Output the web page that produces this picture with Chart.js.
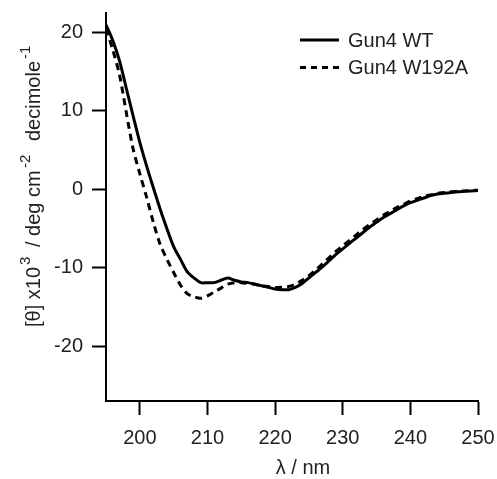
<!DOCTYPE html>
<html>
<head>
<meta charset="utf-8">
<script src="https://cdn.jsdelivr.net/npm/chart.js@4.4.1/dist/chart.umd.min.js"></script>
<style>
  html, body { margin: 0; padding: 0; background: #fff; }
  #wrap { width: 497px; height: 479px; }
</style>
</head>
<body>
<div id="wrap"><canvas id="cd"></canvas></div>
<script>
// wavelength (nm)
const wavelengths = [195, 196, 197, 198, 199, 200, 201, 202, 203, 204, 205, 206, 207, 208, 209,
  210, 211, 212, 213, 214, 215, 216, 217, 218, 219, 220, 221, 222, 223, 224, 225, 226, 227, 228,
  229, 230, 231, 232, 233, 234, 235, 236, 237, 238, 239, 240, 241, 242, 243, 244, 245, 246, 247,
  248, 249, 250];
// mean residue ellipticity x10^3
const wt = [21.0, 19.0, 16.4, 12.9, 9.4, 6.0, 3.0, 0.2, -2.5, -5.0, -7.3, -8.9, -10.5, -11.3, -11.9,
  -11.9, -11.9, -11.6, -11.3, -11.6, -11.8, -11.9, -12.1, -12.3, -12.5, -12.7, -12.8, -12.8, -12.5,
  -12.0, -11.3, -10.6, -9.9, -9.1, -8.3, -7.6, -6.9, -6.2, -5.5, -4.8, -4.2, -3.6, -3.1, -2.6, -2.1,
  -1.7, -1.4, -1.1, -0.8, -0.6, -0.5, -0.4, -0.3, -0.25, -0.2, -0.15];
const w192a = [20.5, 17.8, 14.6, 9.8, 5.2, 2.0, -1.0, -4.2, -7.0, -8.9, -10.6, -12.2, -13.3, -13.7, -13.9,
  -13.6, -13.1, -12.6, -12.1, -11.9, -11.9, -12.0, -12.1, -12.3, -12.4, -12.5, -12.5, -12.4, -12.1,
  -11.6, -11.0, -10.3, -9.5, -8.7, -7.9, -7.2, -6.5, -5.8, -5.1, -4.5, -3.9, -3.3, -2.8, -2.3, -1.9,
  -1.5, -1.2, -0.9, -0.7, -0.5, -0.4, -0.3, -0.25, -0.2, -0.15, -0.1];
const seriesNames = ['Gun4 WT', 'Gun4 W192A'];
const xTicks = [200, 210, 220, 230, 240, 250];
const yTicks = [-20, -10, 0, 10, 20];

const FONT = '"Liberation Sans", Arial, sans-serif';

function pts(ys) {
  return wavelengths.map((x, i) => ({ x: x, y: ys[i] }));
}

function noPad(s) {
  s.paddingTop = 0; s.paddingBottom = 0; s.paddingLeft = 0; s.paddingRight = 0;
}

/* legend + axis titles drawn by hand */
const extras = {
  id: 'extras',
  afterDraw(chart) {
    const c = chart.ctx;
    c.save();
    c.fillStyle = '#222';
    c.strokeStyle = '#000';
    // legend
    c.font = '20px ' + FONT;
    c.textBaseline = 'middle';
    chart.data.datasets.forEach((ds, i) => {
      const y = 40 + i * 27.5;
      c.lineWidth = 3;
      c.setLineDash(ds.borderDash ? [6, 5] : []);
      c.beginPath();
      c.moveTo(300, y);
      c.lineTo(339, y);
      c.stroke();
      c.setLineDash([]);
      c.fillText(ds.label, 348, y + 1);
    });

    // x title
    c.textAlign = 'center';
    c.fillText('\u03bb / nm', 303, 468);

    // y title, rotated, with superscripts: [text, start along the line, superscript?]
    const parts = [
      ['[\u03b8] x10', 0, 0], ['3', 62, 1], ['/ deg cm', 80, 0], ['-2', 159, 1],
      ['decimole', 186, 0], ['-1', 268, 1]
    ];
    c.translate(40, 327);
    c.rotate(-Math.PI / 2);
    c.textAlign = 'left';
    c.textBaseline = 'alphabetic';
    parts.forEach(p => {
      c.font = (p[2] ? '15px ' : '20px ') + FONT;
      c.fillText(p[0], p[1], p[2] ? -10 : 0);
    });
    c.restore();
  }
};

new Chart(document.getElementById('cd'), {
  type: 'line',
  data: {
    datasets: [{
      label: seriesNames[0],
      data: pts(wt),
      borderColor: '#000',
      borderWidth: 3,
      pointRadius: 0,
      tension: 0.3
    }, {
      label: seriesNames[1],
      data: pts(w192a),
      borderColor: '#000',
      borderWidth: 3,
      borderDash: [7, 5],
      pointRadius: 0,
      tension: 0.3
    }]
  },
  options: {
    responsive: true,
    maintainAspectRatio: false,
    animation: false,
    layout: { autoPadding: false, padding: { left: 0, right: 19, top: 13, bottom: 0 } },
    plugins: { legend: { display: false }, tooltip: { enabled: false } },
    scales: {
      x: {
        type: 'linear',
        min: 195,
        max: 250,
        afterFit(s) { s.height = 78; noPad(s); },
        afterBuildTicks(s) { s.ticks = xTicks.map(v => ({ value: v })); },
        border: { display: true, color: '#000', width: 2 },
        grid: { drawOnChartArea: false, drawTicks: true, tickLength: 14, tickWidth: 2, tickColor: '#000' },
        ticks: { color: '#222', padding: 11, maxRotation: 0, font: { family: FONT, size: 20 } }
      },
      y: {
        min: -27,
        max: 22.5,
        afterFit(s) { s.width = 106; noPad(s); },
        afterBuildTicks(s) { s.ticks = yTicks.map(v => ({ value: v })); },
        border: { display: true, color: '#000', width: 2 },
        grid: { drawOnChartArea: false, drawTicks: true, tickLength: 14, tickWidth: 2, tickColor: '#000' },
        ticks: { color: '#222', padding: 9, font: { family: FONT, size: 20 } }
      }
    }
  },
  plugins: [extras]
});
</script>
</body>
</html>
